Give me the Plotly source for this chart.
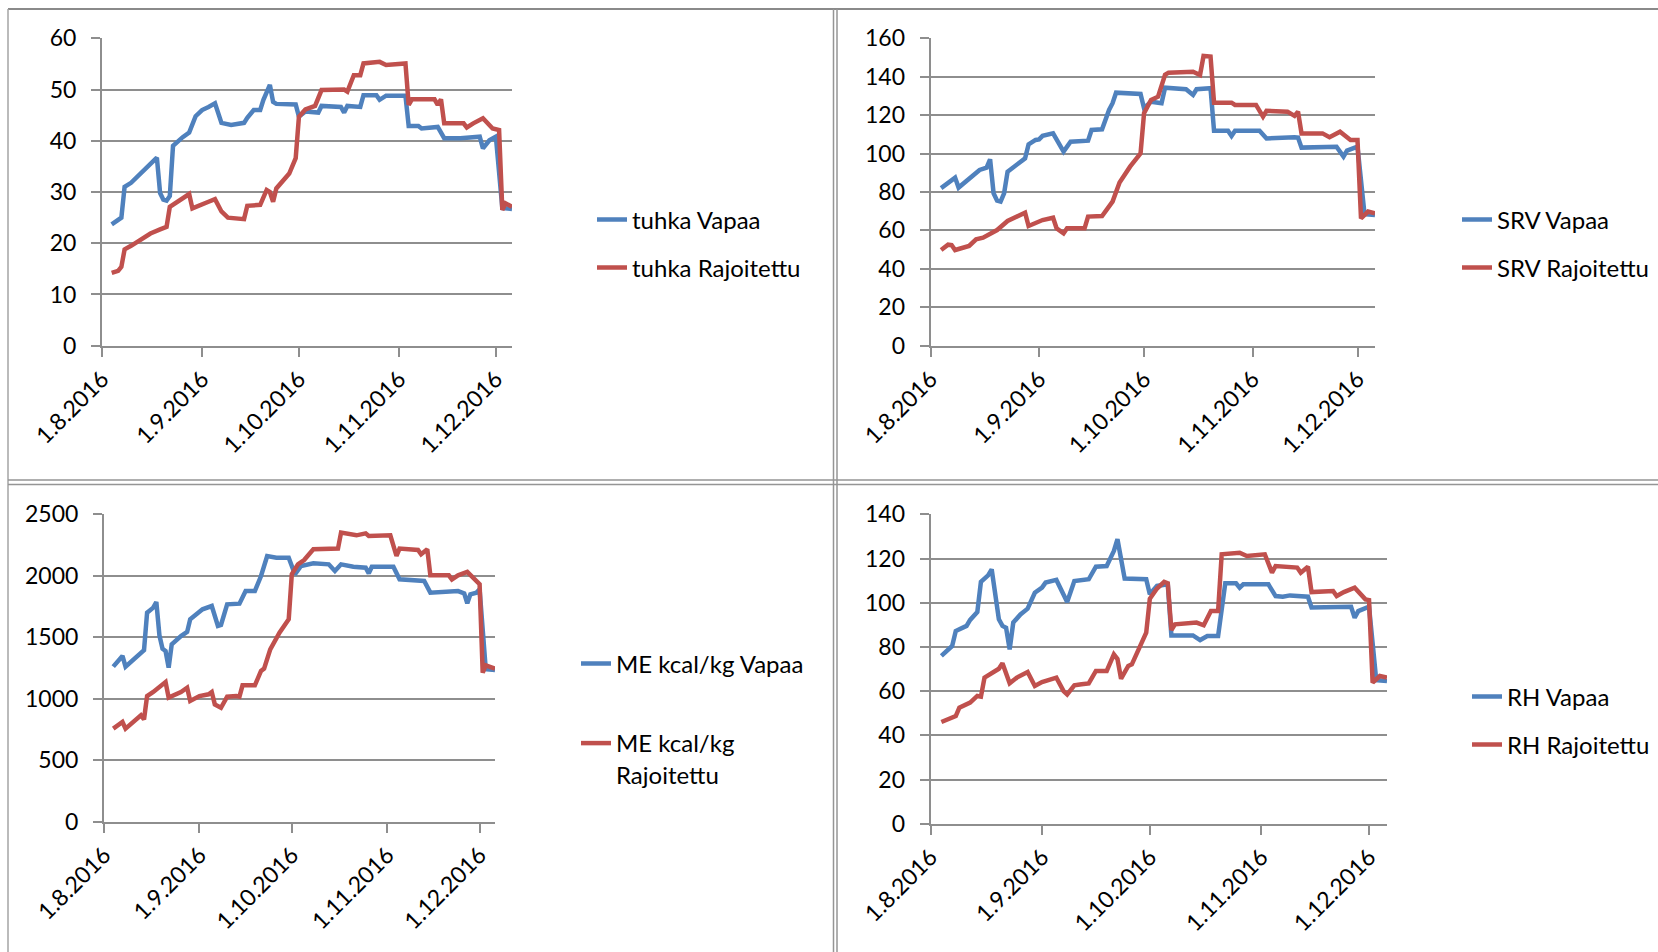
import pandas as pd
import plotly.graph_objects as go

W, H = 1658, 952
START = pd.Timestamp("2016-08-01")

month_ticks = ["2016-08-01", "2016-09-01", "2016-10-01", "2016-11-01", "2016-12-01"]
month_labels = ["1.8.2016", "1.9.2016", "1.10.2016", "1.11.2016", "1.12.2016"]

# Measurements: day offsets counted from 1.8.2016, and the measured values

# tuhka (ash)
tuhka_vapaa_day = [3, 6, 7, 9, 17, 18, 19, 20, 21, 22, 25, 27, 29, 31, 33, 35, 37, 40, 44, 45,
                   47, 49, 50, 52, 53, 54, 60, 61, 63, 67, 68, 74, 75, 76, 80, 81, 85, 86, 88, 94,
                   95, 98, 99, 104, 106, 111, 117, 118, 120, 122, 124, 127]
tuhka_vapaa = [23.7, 25.0, 31.0, 31.8, 36.7, 29.8, 28.5, 28.3, 29.2, 39.0, 40.7, 41.6, 44.8, 46.0,
               46.6, 47.3, 43.5, 43.1, 43.5, 44.5, 46.0, 46.0, 48.0, 50.9, 47.6, 47.2, 47.1, 44.7,
               45.7, 45.5, 46.8, 46.6, 45.5, 46.8, 46.6, 48.9, 48.9, 48.0, 48.8, 48.8, 42.9, 42.9,
               42.4, 42.7, 40.5, 40.5, 40.8, 38.5, 40.1, 40.8, 26.9, 26.7]
tuhka_raj_day = [3, 5, 6, 7, 9, 12, 15, 18, 20, 21, 24, 27, 28, 31, 33, 35, 37, 39, 42, 44, 45,
                 49, 51, 52, 53, 54, 58, 60, 61, 63, 66, 68, 75, 76, 78, 80, 81, 86, 88, 94, 95,
                 96, 103, 104, 105, 106, 112, 113, 115, 118, 121, 123, 124, 125, 127]
tuhka_raj = [14.2, 14.6, 15.4, 18.8, 19.5, 20.8, 21.9, 22.7, 23.2, 27.1, 28.4, 29.6, 26.8, 27.7,
             28.1, 28.6, 26.2, 25.0, 24.9, 24.7, 27.3, 27.5, 30.4, 30.0, 28.1, 30.7, 33.6, 36.6,
             44.7, 46.1, 46.8, 49.9, 50.0, 49.6, 52.8, 52.8, 55.1, 55.4, 54.8, 55.1, 47.0, 48.1,
             48.1, 47.0, 48.1, 43.4, 43.4, 42.6, 43.4, 44.4, 42.4, 42.1, 26.5, 27.8, 27.1]

# SRV
srv_vapaa_day = [3, 5, 7, 8, 10, 14, 16, 17, 18, 19, 20, 21, 22, 25, 27, 28, 30, 31, 32, 35, 38,
                 40, 45, 46, 49, 51, 52, 53, 60, 61, 63, 66, 67, 73, 75, 76, 80, 81, 85, 86, 87,
                 94, 96, 104, 105, 106, 116, 118, 119, 122, 124, 127]
srv_vapaa = [82.0, 85.0, 87.5, 82.3, 85.4, 91.5, 92.7, 97.0, 79.3, 75.5, 75.0, 79.3, 90.6, 94.6,
             97.5, 104.8, 107.1, 107.4, 109.2, 110.5, 101.0, 106.2, 106.7, 112.3, 112.6, 122.7,
             126.2, 131.7, 131.0, 123.6, 127.0, 126.2, 134.3, 133.5, 130.5, 133.5, 134.0, 111.9,
             111.9, 109.2, 111.9, 111.9, 107.9, 108.5, 108.3, 103.1, 103.6, 98.4, 101.5, 103.6,
             68.5, 68.0]
srv_raj_day = [3, 5, 6, 7, 11, 13, 15, 19, 22, 27, 28, 32, 35, 36, 38, 39, 44, 45, 49, 52, 54,
               57, 60, 61, 63, 65, 67, 68, 75, 77, 78, 80, 81, 86, 87, 93, 95, 96, 102, 104, 105,
               106, 112, 114, 117, 120, 122, 123, 125, 127]
srv_raj = [49.8, 52.6, 52.4, 49.8, 51.9, 55.4, 56.2, 60.2, 64.9, 69.2, 62.3, 65.4, 66.6, 61.1,
           58.5, 61.1, 61.1, 67.2, 67.5, 75.0, 84.9, 93.2, 100.1, 121.0, 127.9, 129.6, 141.0,
           142.1, 142.6, 140.9, 150.8, 150.5, 126.5, 126.5, 125.3, 125.3, 119.2, 122.2, 121.8,
           119.6, 121.8, 110.5, 110.5, 108.5, 111.4, 107.1, 107.1, 66.3, 69.8, 68.9]

# ME kcal/kg
me_vapaa_day = [3, 6, 7, 12, 13, 14, 16, 17, 18, 19, 20, 21, 22, 25, 27, 28, 31, 32, 35, 36, 37,
                38, 40, 44, 46, 49, 51, 53, 56, 60, 62, 64, 68, 73, 75, 77, 81, 85, 86, 87, 94,
                96, 103, 104, 106, 115, 117, 118, 119, 121, 122, 124, 127]
me_vapaa = [1261, 1348, 1261, 1375, 1396, 1700, 1741, 1787, 1516, 1407, 1388, 1253, 1443, 1510,
            1543, 1646, 1700, 1727, 1754, 1673, 1592, 1600, 1768, 1773, 1876, 1876, 1998, 2161,
            2147, 2147, 2012, 2080, 2101, 2093, 2039, 2093, 2074, 2066, 2020, 2074, 2074, 1971,
            1966, 1958, 1863, 1876, 1857, 1776, 1849, 1863, 1890, 1240, 1234]
me_raj_day = [3, 5, 6, 7, 9, 11, 12, 13, 14, 16, 18, 20, 21, 25, 27, 28, 31, 34, 35, 36, 38, 40,
              43, 44, 45, 49, 51, 52, 54, 57, 60, 61, 63, 65, 68, 76, 77, 82, 85, 86, 93, 95, 96,
              102, 103, 105, 106, 112, 113, 115, 118, 121, 122, 123, 124, 127]
me_raj = [757, 800, 811, 757, 800, 832, 865, 832, 1022, 1055, 1090, 1136, 1009, 1055, 1090, 982,
          1022, 1036, 1055, 954, 927, 1017, 1022, 1017, 1109, 1109, 1226, 1245, 1402, 1537, 1646,
          2012, 2093, 2128, 2215, 2221, 2351, 2329, 2345, 2324, 2329, 2161, 2221, 2210, 2175,
          2215, 2004, 2004, 1971, 2004, 2031, 1958, 1931, 1212, 1272, 1245]

# RH
rh_vapaa_day = [3, 5, 6, 7, 10, 11, 13, 14, 16, 17, 19, 20, 21, 22, 23, 25, 27, 29, 31, 32, 35,
                38, 40, 44, 46, 49, 51, 52, 54, 60, 61, 63, 66, 67, 73, 75, 77, 80, 82, 85, 86,
                87, 94, 96, 98, 100, 105, 106, 117, 118, 119, 122, 124, 127]
rh_vapaa = [75.9, 78.9, 80.4, 87.2, 89.5, 92.2, 95.8, 109.4, 112.4, 115.1, 92.5, 89.5, 88.7,
            78.9, 91.0, 94.7, 97.3, 104.5, 106.8, 109.1, 110.3, 100.3, 109.8, 110.6, 116.3, 116.6,
            123.4, 128.7, 110.9, 110.6, 103.8, 107.6, 108.3, 85.2, 85.2, 83.1, 84.9, 84.9, 108.8,
            108.8, 106.8, 108.3, 108.3, 103.0, 102.7, 103.3, 102.7, 97.8, 98.2, 93.2, 96.2, 98.2,
            65.0, 64.6]
rh_raj_day = [3, 6, 7, 8, 11, 13, 14, 15, 17, 19, 20, 22, 24, 27, 29, 31, 35, 37, 38, 40, 42, 44,
              46, 49, 51, 52, 53, 55, 56, 58, 59, 60, 61, 63, 65, 66, 67, 68, 74, 76, 78, 80, 81,
              86, 88, 93, 95, 96, 102, 103, 105, 106, 112, 113, 115, 118, 121, 122, 123, 125, 127]
rh_raj = [46.0, 48.0, 48.7, 52.5, 54.8, 57.8, 57.5, 66.1, 68.3, 70.1, 72.6, 63.5, 66.1, 68.6,
          62.3, 64.1, 66.1, 60.0, 58.5, 62.6, 63.1, 63.5, 69.1, 69.1, 76.6, 74.5, 65.6, 71.4,
          72.1, 79.6, 82.7, 86.4, 101.8, 106.4, 109.4, 108.8, 87.6, 90.2, 91.0, 89.8, 96.2, 96.2,
          121.9, 122.6, 121.1, 121.9, 113.6, 116.6, 115.9, 113.6, 116.3, 104.8, 105.3, 103.0,
          104.8, 106.8, 101.5, 101.2, 63.8, 66.8, 66.1]

BLUE = "#4F81BD"
RED = "#C0504D"
GRID = "#8E8E8E"
BORDER = "#959595"
FONT = "Lato"
TICK_FS = 23
LEG_FS = 24


def px(x):
    return x / W


def py(y):
    return 1 - y / H


def to_dates(days):
    return START + pd.to_timedelta(days, unit="D")


# panel geometry in pixels: plot left, right, top, bottom; y range; legend anchor pixels
panels = [
    dict(series=[(tuhka_vapaa_day, tuhka_vapaa), (tuhka_raj_day, tuhka_raj)],
         labels=["tuhka Vapaa", "tuhka Rajoitettu"],
         box=(102, 512, 38.3, 345.7), yr=60, dt=10,
         leg_x=632, leg_y=[220, 268]),
    dict(series=[(srv_vapaa_day, srv_vapaa), (srv_raj_day, srv_raj)],
         labels=["SRV Vapaa", "SRV Rajoitettu"],
         box=(930.6, 1375, 38.3, 345.7), yr=160, dt=20,
         leg_x=1497, leg_y=[220, 268]),
    dict(series=[(me_vapaa_day, me_vapaa), (me_raj_day, me_raj)],
         labels=["ME kcal/kg Vapaa", "ME kcal/kg<br>Rajoitettu"],
         box=(104, 495, 514.3, 821.7), yr=2500, dt=500,
         leg_x=616, leg_y=[664, 744]),
    dict(series=[(rh_vapaa_day, rh_vapaa), (rh_raj_day, rh_raj)],
         labels=["RH Vapaa", "RH Rajoitettu"],
         box=(930.6, 1387, 514.3, 823.7), yr=140, dt=20,
         leg_x=1507, leg_y=[697, 745]),
]

fig = go.Figure()
layout = {}
legend_no = 0
for i, p in enumerate(panels, start=1):
    xa = "x" if i == 1 else f"x{i}"
    ya = "y" if i == 1 else f"y{i}"
    left, right, top, bottom = p["box"]
    for k, ((days, vals), label) in enumerate(zip(p["series"], p["labels"])):
        color = BLUE if k == 0 else RED
        legend_no += 1
        lg = "legend" if legend_no == 1 else f"legend{legend_no}"
        fig.add_trace(go.Scatter(
            x=to_dates(days), y=vals, mode="lines", name=label,
            line=dict(color=color, width=4.5),
            xaxis=xa, yaxis=ya, legend=lg, showlegend=True,
        ))
        multi = "<br>" in label
        ly = p["leg_y"][k]
        layout[lg] = dict(
            x=px(p["leg_x"] - 40), xanchor="left",
            y=py(ly - 23) if multi else py(ly),
            yanchor="top" if multi else "middle",
            valign="top",
            font=dict(family=FONT, size=LEG_FS, color="#000000"),
            bgcolor="rgba(0,0,0,0)", borderwidth=0,
        )
    axkey_x = "xaxis" if i == 1 else f"xaxis{i}"
    axkey_y = "yaxis" if i == 1 else f"yaxis{i}"
    layout[axkey_x] = dict(
        domain=[px(left), px(right)], anchor=ya, automargin=False,
        type="date", range=["2016-08-01", "2016-12-06"],
        tickvals=month_ticks, ticktext=month_labels, tickangle=-45,
        showgrid=False, showline=True, linecolor=GRID, linewidth=2,
        ticks="outside", ticklen=9, tickwidth=2, tickcolor=GRID,
        tickfont=dict(family=FONT, size=TICK_FS, color="#000000"),
        zeroline=False,
    )
    layout[axkey_y] = dict(
        domain=[py(bottom), py(top)], anchor=xa, automargin=False,
        range=[0, p["yr"]], dtick=p["dt"], tick0=0,
        showgrid=True, gridcolor=GRID, gridwidth=2,
        showline=True, linecolor=GRID, linewidth=2,
        ticks="outside", ticklen=9, tickwidth=2, tickcolor=GRID,
        tickfont=dict(family=FONT, size=TICK_FS, color="#000000"),
        ticklabelstandoff=10, zeroline=False,
    )

# cell borders around the four charts
shapes = []


def hline(y, x0, x1, w=2, c=BORDER):
    shapes.append(dict(type="line", xref="paper", yref="paper",
                       x0=px(x0), x1=px(x1), y0=py(y), y1=py(y),
                       line=dict(color=c, width=w)))


def vline(x, y0, y1, w=2, c=BORDER):
    shapes.append(dict(type="line", xref="paper", yref="paper",
                       x0=px(x), x1=px(x), y0=py(y0), y1=py(y1),
                       line=dict(color=c, width=w)))


hline(9, 8, W, w=2, c="#8A8A8A")
vline(8, 9, H, w=1.5, c="#A5A5A5")
vline(833.5, 9, H, w=1.5)
vline(837, 9, H, w=1.5)
hline(480, 8, W, w=1.5)
hline(484.5, 8, W, w=1.5)

fig.update_layout(
    width=W, height=H, autosize=False,
    margin=dict(l=0, r=0, t=0, b=0, autoexpand=False),
    paper_bgcolor="white", plot_bgcolor="white",
    font=dict(family=FONT, size=TICK_FS, color="#000000"),
    shapes=shapes,
    **layout,
)

fig.write_html("out.html")
